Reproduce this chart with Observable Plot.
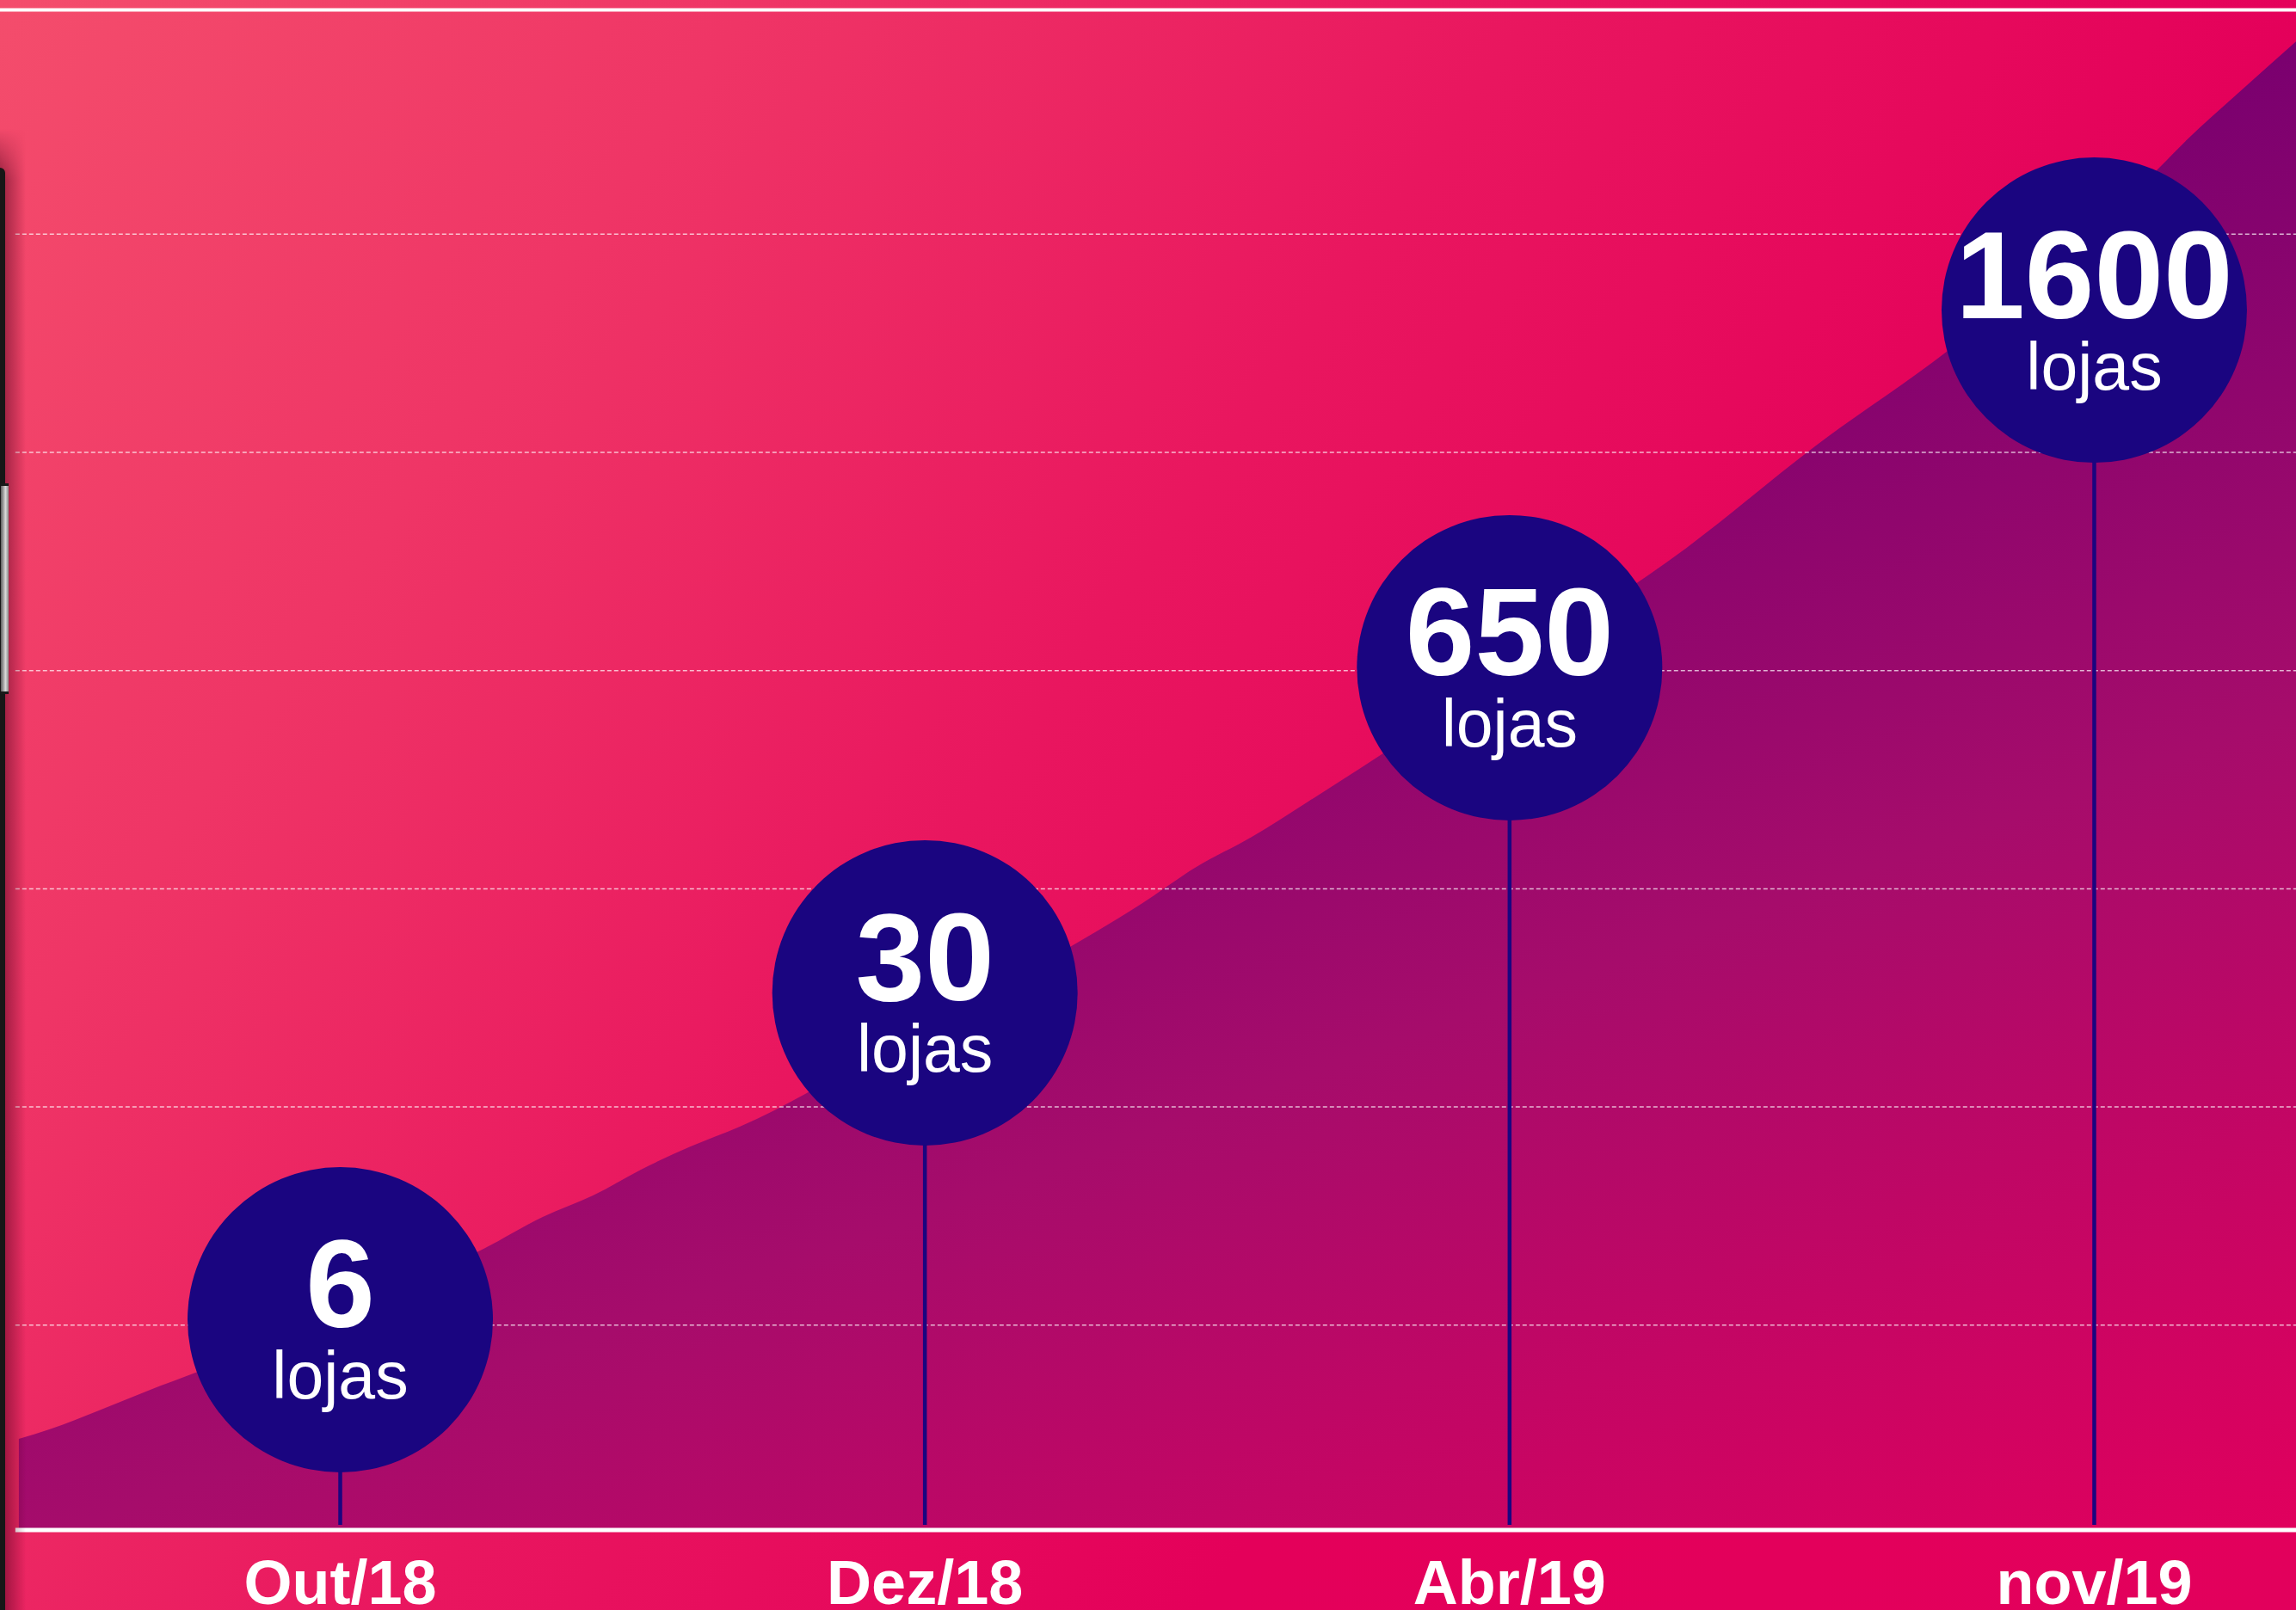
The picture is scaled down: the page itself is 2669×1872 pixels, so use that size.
<!DOCTYPE html>
<html>
<head>
<meta charset="utf-8">
<script src="https://cdn.jsdelivr.net/npm/d3@7"></script>
<script src="https://cdn.jsdelivr.net/npm/@observablehq/plot@0.6"></script>
<style>
html, body { margin: 0; padding: 0; background: #e4005a; overflow: hidden; }
#wrap { position: relative; width: 2669px; height: 1872px; overflow: hidden; }
#wrap svg { display: block; max-width: none !important; }
.vig { position: absolute; left: 0; top: 150px; width: 30px; bottom: 0;
  background: linear-gradient(to right, rgba(70,0,25,.55), rgba(70,0,25,0)); pointer-events: none;
  -webkit-mask-image: linear-gradient(to bottom, transparent 0, black 60px); mask-image: linear-gradient(to bottom, transparent 0, black 60px); }
.edge { position: absolute; left: 0; top: 195px; width: 6px; bottom: 0; background: #171717;
  border-top-right-radius: 6px; }
.btn { position: absolute; left: 1px; top: 562px; width: 9px; height: 239px;
  background: linear-gradient(to right, #5e5e5e, #dadada 60%, #8a8a8a);
  border-top: 3px solid #1a1a1a; border-bottom: 3px solid #1a1a1a; }
</style>
</head>
<body>
<div id="wrap"><div class="vig"></div><div class="edge"></div><div class="btn"></div></div>
<script>
// ---- data ----
const categories = ["Out/18", "Dez/18", "Abr/19", "nov/19"];
const stores = [6, 30, 650, 1600];
const storeUnit = "lojas";
const bubbleLevel = [1.025, 2.523, 4.013, 5.652];

// growth curve (decorative area), x in category index units, y in grid units
const curveX = [-0.549, -0.497, -0.412, -0.328, -0.243, 0.0, 0.246, 0.347, 0.433, 0.515, 0.600, 0.684,
  1.0, 1.259, 1.373, 1.465, 1.560, 1.654, 1.746, 2.0, 2.303, 2.523, 2.750, 3.0, 3.112, 3.160, 3.244, 3.346];
const curveY = [0.477, 0.520, 0.607, 0.698, 0.784, 1.067, 1.348, 1.494, 1.592, 1.711, 1.817, 1.908,
  2.369, 2.747, 2.933, 3.098, 3.236, 3.394, 3.551, 4.013, 4.560, 5.026, 5.463, 6.027, 6.303, 6.433, 6.638, 6.882];

const gridLevels = [1, 2, 3, 4, 5, 6];
const topLevel = 7.028;
const baseLevel = 0.061;
const stemBase = 0.083;
const ruleStart = -0.555;

// ---- tables ----
const bubbles = categories.map((c, i) => ({i, label: c, value: stores[i], level: bubbleLevel[i]}));
const curve = curveX.map((x, i) => ({x, y: curveY[i]}));

const font = "Liberation Sans, Arial, Helvetica, sans-serif";
const navy = "#1a0580";

const chart = Plot.plot({
  width: 2669,
  height: 1872,
  margin: 0,
  style: {
    background: "linear-gradient(125deg, #f44d6c 0%, #ef3566 22%, #e9165f 45%, #e4005a 68%, #e2005c 100%)",
    fontFamily: font
  },
  x: {domain: [-0.5812, 3.3458], axis: null},
  y: {domain: [-0.3074, 7.0713], axis: null},
  marks: [
    Plot.areaY(curve, {x: "x", y1: baseLevel, y2: "y", fill: "url(#areaGrad)", curve: "monotone-x"}),
    Plot.ruleY(gridLevels, {x1: ruleStart, x2: 3.3458, stroke: "white", strokeOpacity: 0.7, strokeWidth: 1.5, strokeDasharray: "5,3"}),
    Plot.ruleY([topLevel], {stroke: "white", strokeWidth: 4}),
    Plot.ruleX(bubbles, {x: "i", y1: stemBase, y2: "level", stroke: navy, strokeWidth: 4.5}),
    Plot.ruleY([baseLevel], {x1: ruleStart, x2: 3.3458, stroke: "white", strokeWidth: 5}),
    Plot.dot(bubbles, {x: "i", y: "level", r: 177.5, fill: navy, stroke: "none"}),
    Plot.text(bubbles, {x: "i", y: "level", text: d => String(d.value), fill: "white", fontSize: 145,
      fontWeight: "bold", fontFamily: font, lineAnchor: "bottom", dy: 9, textAnchor: "middle"}),
    Plot.text(bubbles, {x: "i", y: "level", text: () => storeUnit, fill: "white", fontSize: 77,
      fontFamily: font, lineAnchor: "bottom", dy: 92, textAnchor: "middle"}),
    Plot.text(bubbles, {x: "i", frameAnchor: "bottom", text: "label", fill: "white", fontSize: 72,
      fontWeight: "bold", fontFamily: font, lineAnchor: "bottom", dy: -8, textAnchor: "middle"})
  ]
});

// gradient for the growth area
const svg = d3.select(chart);
const defs = svg.insert("defs", ":first-child");
const grad = defs.append("linearGradient")
  .attr("id", "areaGrad")
  .attr("gradientUnits", "userSpaceOnUse")
  .attr("x1", 2669).attr("y1", 48)
  .attr("x2", 3229).attr("y2", 1577);
grad.append("stop").attr("offset", "0%").attr("stop-color", "#7a006f");
grad.append("stop").attr("offset", "45%").attr("stop-color", "#a60c6b");
grad.append("stop").attr("offset", "100%").attr("stop-color", "#e1005d");

document.getElementById("wrap").prepend(chart);
</script>
</body>
</html>
